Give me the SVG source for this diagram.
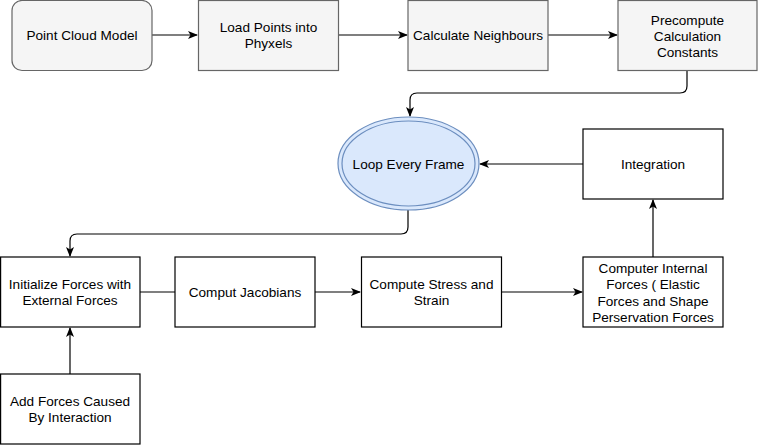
<svg xmlns="http://www.w3.org/2000/svg" width="759" height="445" viewBox="0 0 759 445">
<style>
.t{font-family:"Liberation Sans",Arial,sans-serif;font-size:13.6px;fill:#000;text-anchor:middle}
.g{fill:#f5f5f5;stroke:#666;stroke-width:1.2}
.w{fill:#fff;stroke:#000;stroke-width:1.2}
.c{fill:none;stroke:#000;stroke-width:1.2}
</style>
<defs>
<marker id="a" viewBox="0 0 10 10" refX="9" refY="5" markerWidth="10" markerHeight="10" markerUnits="userSpaceOnUse" orient="auto">
<path d="M0,1 L10,5 L0,9 L2.5,5 Z" fill="#000"/>
</marker>
</defs>
<rect width="759" height="445" fill="#fff"/>
<g id="connectors">
<path class="c" d="M152,35 H197" marker-end="url(#a)"/>
<path class="c" d="M339,35 H407" marker-end="url(#a)"/>
<path class="c" d="M548,35 H617" marker-end="url(#a)"/>
<path class="c" d="M687,70 V86 Q687,93 680,93 H417 Q410,93 410,100 V116" marker-end="url(#a)"/>
<path class="c" d="M583,164 H480" marker-end="url(#a)"/>
<path class="c" d="M408,210 V227 Q408,234 401,234 H77 Q70,234 70,241 V256" marker-end="url(#a)"/>
<path class="c" d="M140,292 H175"/>
<path class="c" d="M315,292 H360" marker-end="url(#a)"/>
<path class="c" d="M502,292 H582" marker-end="url(#a)"/>
<path class="c" d="M653,257 V200" marker-end="url(#a)"/>
<path class="c" d="M70,374 V328" marker-end="url(#a)"/>
</g>
<g id="n1"><rect class="g" x="12" y="0.5" width="140" height="70" rx="10"/><text class="t" x="82" y="40">Point Cloud Model</text></g>
<g id="n2"><rect class="g" x="198.5" y="0.5" width="140" height="70"/><text class="t" x="268.5" y="32">Load Points into</text><text class="t" x="268.5" y="48">Phyxels</text></g>
<g id="n3"><rect class="g" x="408" y="0.5" width="140" height="70"/><text class="t" x="478" y="40">Calculate Neighbours</text></g>
<g id="n4"><rect class="g" x="618" y="0.5" width="139" height="70"/><text class="t" x="687.5" y="24.5">Precompute</text><text class="t" x="687.5" y="40.5">Calculation</text><text class="t" x="687.5" y="56.5">Constants</text></g>
<g id="n5"><ellipse cx="408.5" cy="163.5" rx="70.5" ry="46.5" fill="#dae8fc" stroke="#6c8ebf" stroke-width="1.2"/><ellipse cx="408.5" cy="163.5" rx="66.5" ry="42.5" fill="none" stroke="#6c8ebf" stroke-width="1.2"/><text class="t" x="408.5" y="168.5">Loop Every Frame</text></g>
<g id="n6"><rect class="w" x="583" y="129" width="140" height="70"/><text class="t" x="653" y="169">Integration</text></g>
<g id="n7"><rect class="w" x="0.6" y="257" width="139.4" height="70"/><text class="t" x="70" y="289">Initialize Forces with</text><text class="t" x="70" y="305">External Forces</text></g>
<g id="n8"><rect class="w" x="175" y="257" width="140" height="70"/><text class="t" x="245" y="297">Comput Jacobians</text></g>
<g id="n9"><rect class="w" x="361.5" y="257" width="140" height="70"/><text class="t" x="431.5" y="289">Compute Stress and</text><text class="t" x="431.5" y="305">Strain</text></g>
<g id="n10"><rect class="w" x="583" y="257" width="140" height="70"/><text class="t" x="653" y="273">Computer Internal</text><text class="t" x="653" y="289">Forces ( Elastic</text><text class="t" x="653" y="305.5">Forces and Shape</text><text class="t" x="653" y="322">Perservation Forces</text></g>
<g id="n11"><rect class="w" x="0.6" y="374" width="139.4" height="70"/><text class="t" x="70" y="406">Add Forces Caused</text><text class="t" x="70" y="422">By Interaction</text></g>
</svg>
